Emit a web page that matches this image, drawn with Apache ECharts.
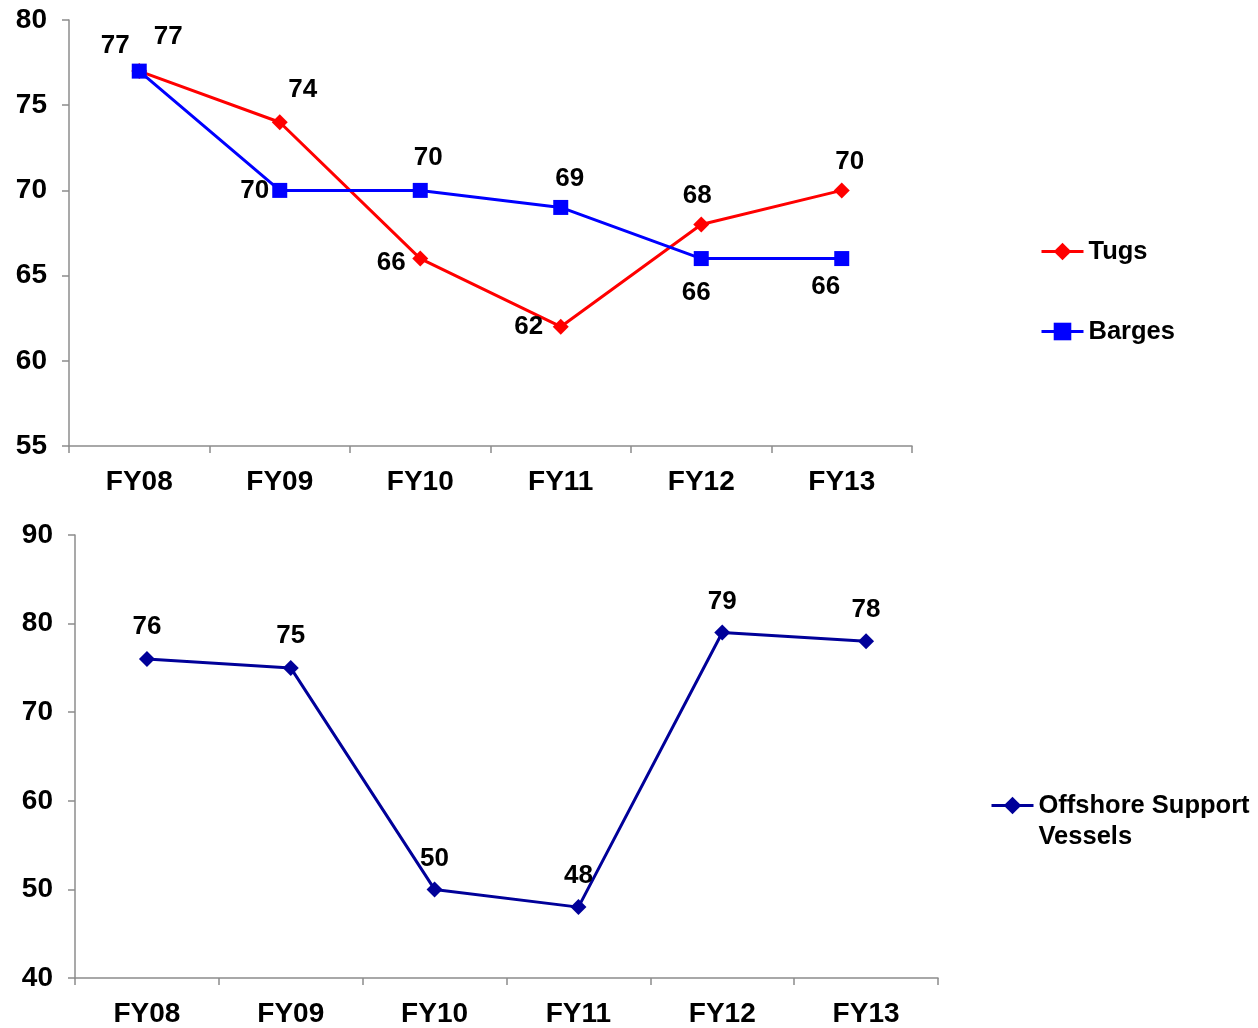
<!DOCTYPE html>
<html lang="en">
<head>
    <meta charset="UTF-8">
    <title>Utilisation</title>
    <script src="https://cdn.jsdelivr.net/npm/echarts@6/dist/echarts.min.js"></script>
    <style>
        html, body { margin: 0; padding: 0; background: #fff; }
        #main { width: 1258px; height: 1028px; }
    </style>
</head>
<body>
    <div id="main"></div>
    <script>
        // data
        var years = ['FY08', 'FY09', 'FY10', 'FY11', 'FY12', 'FY13'];
        var tugs = [77, 74, 66, 62, 68, 70];
        var barges = [77, 70, 70, 69, 66, 66];
        var osv = [76, 75, 50, 48, 79, 78];

        // where each value label sits relative to its point (px)
        var tugsOffsets = [[29, -34], [23, -32], [-29, 4], [-32, 0], [-4, -29], [8, -29]];
        var bargesOffsets = [[-24, -25], [-25, 0], [8, -33], [9, -29], [-5, 34], [-16, 28]];
        var osvOffsets = [[0, -32], [0, -32], [0, -31], [0, -31], [0, -31], [0, -31]];

        var font = '"Liberation Sans", Arial, sans-serif';
        var axisGrey = '#8c8c8c';

        function withLabels(values, offsets) {
            return values.map(function (v, i) {
                return { value: v, label: { offset: offsets[i] } };
            });
        }

        function xAxis(gridIndex, margin) {
            return {
                type: 'category', gridIndex: gridIndex, data: years, boundaryGap: true,
                axisLine: { lineStyle: { color: axisGrey, width: 1.5 } },
                axisTick: { show: true, interval: 0, length: 7, lineStyle: { color: axisGrey, width: 1.5 } },
                axisLabel: { margin: margin, color: '#000', fontFamily: font, fontWeight: 'bold', fontSize: 28 }
            };
        }

        function yAxis(gridIndex, min, max, interval, margin) {
            return {
                type: 'value', gridIndex: gridIndex, min: min, max: max, interval: interval,
                splitLine: { show: false },
                axisLine: { show: true, lineStyle: { color: axisGrey, width: 1.5 } },
                axisTick: { show: true, length: 7, lineStyle: { color: axisGrey, width: 1.5 } },
                axisLabel: { margin: margin, color: '#000', fontFamily: font, fontWeight: 'bold', fontSize: 28 }
            };
        }

        var labelStyle = {
            show: true, position: 'inside', color: '#000',
            fontFamily: font, fontWeight: 'bold', fontSize: 26
        };

        var legendText = { color: '#000', fontFamily: font, fontWeight: 'bold', fontSize: 25.5, lineHeight: 31 };

        var chart = echarts.init(document.getElementById('main'));
        var option = {
            animation: false,
            backgroundColor: '#fff',
            grid: [
                { left: 69, right: 346, top: 20, bottom: 582 },
                { left: 75, right: 320, top: 535, bottom: 50 }
            ],
            xAxis: [xAxis(0, 22), xAxis(1, 22)],
            yAxis: [yAxis(0, 55, 80, 5, 22), yAxis(1, 40, 90, 10, 22)],
            legend: [
                {
                    data: ['Tugs', 'Barges'], orient: 'vertical', left: 1035, top: 231,
                    itemWidth: 42, itemHeight: 22, itemGap: 49,
                    lineStyle: { width: 3 },
                    textStyle: legendText
                },
                {
                    data: ['Offshore Support Vessels'], orient: 'vertical', left: 985, top: 754,
                    itemWidth: 42, itemHeight: 22,
                    lineStyle: { width: 3 },
                    // blank first line so the icon lines up with "Offshore Support"
                    formatter: function () { return ' \nOffshore Support\nVessels'; },
                    textStyle: legendText
                }
            ],
            series: [
                {
                    name: 'Tugs', type: 'line', xAxisIndex: 0, yAxisIndex: 0,
                    data: withLabels(tugs, tugsOffsets),
                    symbol: 'diamond', symbolSize: 16,
                    lineStyle: { color: '#ff0000', width: 3 },
                    itemStyle: { color: '#ff0000' },
                    label: labelStyle
                },
                {
                    name: 'Barges', type: 'line', xAxisIndex: 0, yAxisIndex: 0,
                    data: withLabels(barges, bargesOffsets),
                    symbol: 'rect', symbolSize: 15,
                    lineStyle: { color: '#0000ff', width: 3 },
                    itemStyle: { color: '#0000ff' },
                    label: labelStyle
                },
                {
                    name: 'Offshore Support Vessels', type: 'line', xAxisIndex: 1, yAxisIndex: 1,
                    data: withLabels(osv, osvOffsets),
                    symbol: 'diamond', symbolSize: 16,
                    lineStyle: { color: '#000099', width: 3 },
                    itemStyle: { color: '#000099' },
                    label: labelStyle
                }
            ]
        };
        chart.setOption(option);
    </script>
</body>
</html>
